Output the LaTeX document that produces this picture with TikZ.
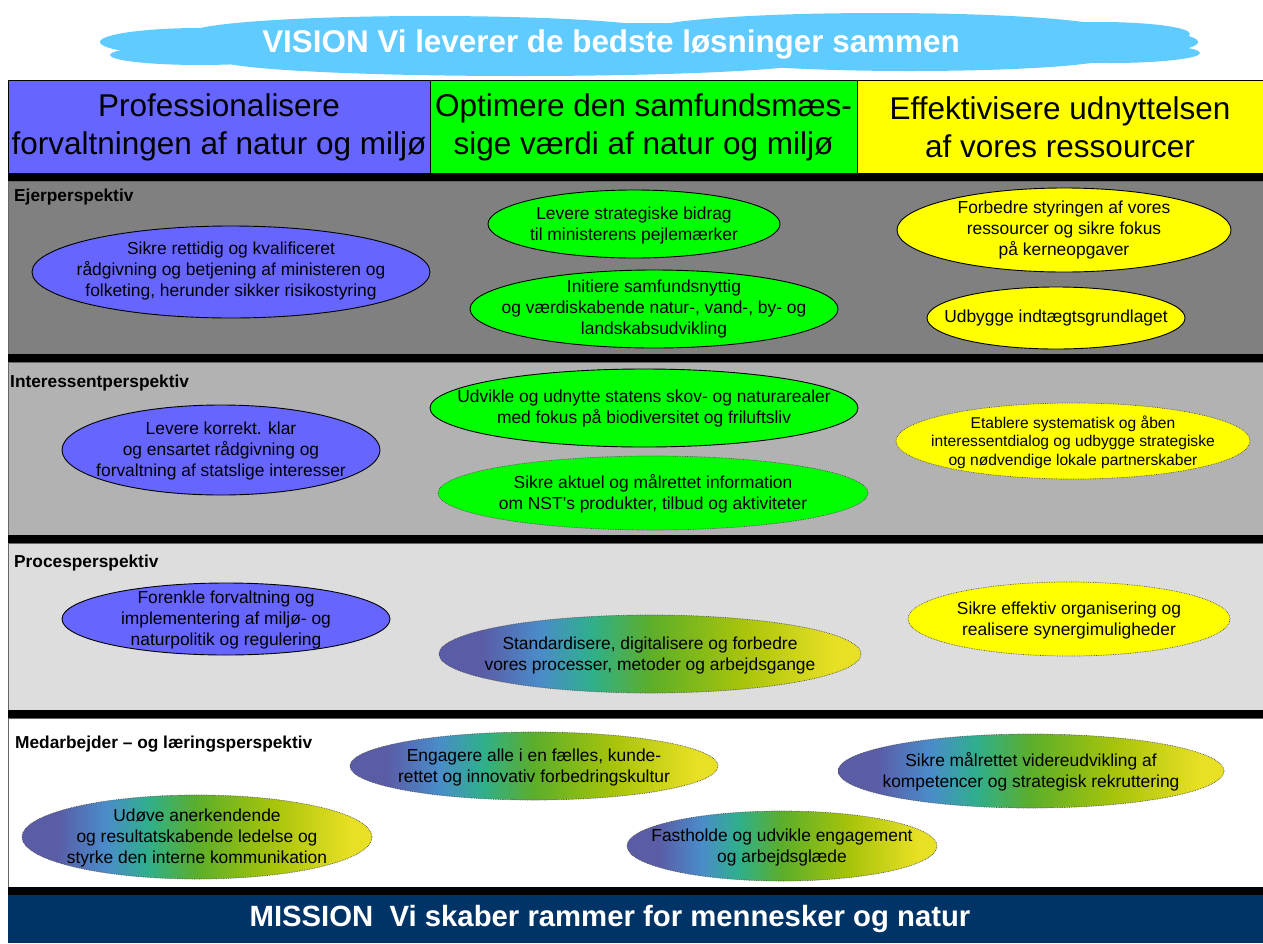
\documentclass[tikz,border=0pt]{standalone}
\usepackage{fontspec}
\setmainfont{Liberation Sans}
\usetikzlibrary{shapes.geometric}
\definecolor{hblue}{HTML}{6666FF}
\definecolor{hgreen}{HTML}{00FF00}
\definecolor{hyellow}{HTML}{FFFF00}
\definecolor{bandA}{HTML}{808080}
\definecolor{bandB}{HTML}{B2B2B2}
\definecolor{bandC}{HTML}{DDDDDD}
\definecolor{cloudc}{HTML}{5FCBFF}
\definecolor{navy}{HTML}{003366}
\definecolor{gA}{HTML}{5A5CA6}
\definecolor{gB}{HTML}{4A8CCA}
\definecolor{gC}{HTML}{2FAF8C}
\definecolor{gD}{HTML}{5CAE2A}
\definecolor{gE}{HTML}{A8C40A}
\definecolor{gF}{HTML}{E8E024}
\pgfdeclarehorizontalshading{nstgrad}{100bp}{color(0bp)=(gA); color(30bp)=(gA); color(37bp)=(gB); color(43bp)=(gC); color(50bp)=(gD); color(61bp)=(gE); color(72bp)=(gF); color(100bp)=(gF)}
\begin{document}
\begin{tikzpicture}[x=1pt,y=-1pt,
  ell/.style={ellipse, inner sep=0pt},
  solidE/.style={ell, draw=black, line width=0.9pt},
  dotE/.style={ell, draw=black!70, line width=0.7pt, densely dotted},
  gradE/.style={dotE, shade, shading=nstgrad, shading angle=0},
  txt/.style={align=center, inner sep=0pt, font=\fontsize{17.4}{21}\selectfont},
  smalltxt/.style={align=center, inner sep=0pt, font=\fontsize{15.6}{18.5}\selectfont},
  hdr/.style={draw=black, line width=0.8pt, align=center, inner sep=0pt, minimum height=93pt, font=\fontsize{31.5}{38}\selectfont},
  bandlabel/.style={anchor=west, inner sep=0pt, font=\bfseries\fontsize{17.3}{20}\selectfont},
  banner/.style={text=white, inner sep=0pt, font=\bfseries\fontsize{31.4}{36}\selectfont}]
\useasboundingbox (0,0) rectangle (1263,943);
\fill[white] (0,0) rectangle (1263,943);
% ---- cloud
\begin{scope}[fill=cloudc]
\fill (645,45) ellipse [x radius=530, y radius=22];
\fill (200,42) ellipse [x radius=100, y radius=14];
\fill (1100,42) ellipse [x radius=98, y radius=14];
\fill (430,33) ellipse [x radius=240, y radius=17];
\fill (880,30) ellipse [x radius=230, y radius=17];
\fill (1100,34) ellipse [x radius=90, y radius=12];
\fill (520,60) ellipse [x radius=300, y radius=16];
\fill (910,57) ellipse [x radius=200, y radius=14];
\fill (200,55) ellipse [x radius=90, y radius=10];
\fill (1110,53) ellipse [x radius=90, y radius=10];
\end{scope}
\node[banner] (vision) at (611,44) {VISION Vi leverer de bedste løsninger sammen};
% ---- header boxes
\node[hdr, fill=hblue, minimum width=422pt] (h1) at (219,127) {Professionalisere\\forvaltningen af natur og miljø};
\node[hdr, fill=hgreen, minimum width=427pt] (h2) at (643.5,127) {Optimere den samfundsmæs-\\sige værdi af natur og miljø};
\node[hdr, fill=hyellow, minimum width=406pt] (h3) at (1060,127) {Effektivisere udnyttelsen\\af vores ressourcer};
% ---- bands
\filldraw[fill=bandA, draw=black!60, line width=0.8pt] (8,181) rectangle (1264,354);
\filldraw[fill=bandB, draw=black!60, line width=0.8pt] (8,362) rectangle (1264,535);
\filldraw[fill=bandC, draw=black!60, line width=0.8pt] (8,543) rectangle (1264,710);
\filldraw[fill=white, draw=black!60, line width=0.8pt] (8,718) rectangle (1264,887);
\fill[black] (8,173) rectangle (1263,181);
\fill[black] (8,354) rectangle (1263,362);
\fill[black] (8,535) rectangle (1263,543);
\fill[black] (8,710) rectangle (1263,718);
\fill[black] (8,887) rectangle (1263,895);
\fill[navy] (8,895) rectangle (1263,943);
\node[banner, font=\bfseries\fontsize{29.3}{34}\selectfont] (mission) at (610,919) {MISSION\ \ Vi skaber rammer for mennesker og natur};
% ---- band labels
\node[bandlabel] (l1) at (14,197) {Ejerperspektiv};
\node[bandlabel] (l2) at (10,383) {Interessentperspektiv};
\node[bandlabel] (l3) at (14,563) {Procesperspektiv};
\node[bandlabel] (l4) at (15,744) {Medarbejder -- og læringsperspektiv};
% ---- Ejerperspektiv
\node[solidE, fill=hblue, minimum width=398pt, minimum height=92pt] (e1) at (231,272) {};
\node[txt] (e1t) at (231,271) {Sikre rettidig og kvalificeret\\rådgivning og betjening af ministeren og\\folketing, herunder sikker risikostyring};
\node[solidE, fill=hgreen, minimum width=292pt, minimum height=68pt] (e2) at (634,224) {};
\node[txt] (e2t) at (634,225) {Levere strategiske bidrag\\til ministerens pejlemærker};
\node[solidE, fill=hgreen, minimum width=368pt, minimum height=78pt] (e3) at (654,309) {};
\node[txt] (e3t) at (e3) {Initiere samfundsnyttig\\og værdiskabende natur-, vand-, by- og\\landskabsudvikling};
\node[solidE, fill=hyellow, minimum width=334pt, minimum height=84pt] (e4) at (1064,230) {};
\node[txt] (e4t) at (e4) {Forbedre styringen af vores\\ressourcer og sikre fokus\\på kerneopgaver};
\node[solidE, fill=hyellow, minimum width=258pt, minimum height=62pt] (e5) at (1056,318) {};
\node[txt] (e5t) at (e5) {Udbygge indtægtsgrundlaget};
% ---- Interessentperspektiv
\node[solidE, fill=hblue, minimum width=318pt, minimum height=90pt] (e6) at (221,450) {};
\node[txt] (e6t) at (221,451) {Levere korrekt. klar\\og ensartet rådgivning og\\forvaltning af statslige interesser};
\node[solidE, fill=hgreen, minimum width=428pt, minimum height=78pt] (e7) at (644,408) {};
\node[txt] (e7t) at (e7) {Udvikle og udnytte statens skov- og naturarealer\\med fokus på biodiversitet og friluftsliv};
\node[dotE, fill=hgreen, minimum width=430pt, minimum height=74pt] (e8) at (653,493) {};
\node[txt] (e8t) at (653,494) {Sikre aktuel og målrettet information\\om NST’s produkter, tilbud og aktiviteter};
\node[dotE, fill=hyellow, minimum width=354pt, minimum height=76pt] (e9) at (1073,441) {};
\node[smalltxt] (e9t) at (1073,442) {Etablere systematisk og åben\\interessentdialog og udbygge strategiske\\og nødvendige lokale partnerskaber};
% ---- Procesperspektiv
\node[solidE, fill=hblue, minimum width=328pt, minimum height=72pt] (e10) at (226,619) {};
\node[txt] (e10t) at (226,620) {Forenkle forvaltning og\\implementering af miljø- og\\naturpolitik og regulering};
\node[gradE, minimum width=422pt, minimum height=78pt] (e11) at (650,654) {};
\node[txt] (e11t) at (650,655) {Standardisere, digitalisere og forbedre\\vores processer, metoder og arbejdsgange};
\node[dotE, fill=hyellow, minimum width=322pt, minimum height=74pt] (e12) at (1069,619) {};
\node[txt] (e12t) at (1069,620) {Sikre effektiv organisering og\\realisere synergimuligheder};
% ---- Medarbejder- og laeringsperspektiv
\node[gradE, minimum width=368pt, minimum height=68pt] (e13) at (534,766) {};
\node[txt] (e13t) at (534,767) {Engagere alle i en fælles, kunde-\\rettet og innovativ forbedringskultur};
\node[gradE, minimum width=386pt, minimum height=74pt] (e14) at (1031,771) {};
\node[txt] (e14t) at (1031,772) {Sikre målrettet videreudvikling af\\kompetencer og strategisk rekruttering};
\node[gradE, minimum width=350pt, minimum height=84pt] (e15) at (197,837) {};
\node[txt] (e15t) at (197,838) {Udøve anerkendende\\og resultatskabende ledelse og\\styrke den interne kommunikation};
\node[gradE, minimum width=310pt, minimum height=70pt] (e16) at (782,846) {};
\node[txt] (e16t) at (782,847) {Fastholde og udvikle engagement\\og arbejdsglæde};
\end{tikzpicture}
\end{document}
